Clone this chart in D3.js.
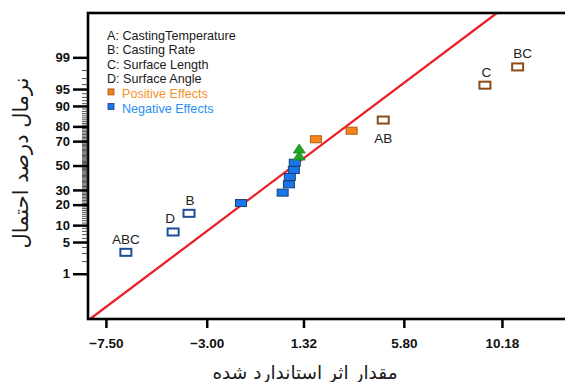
<!DOCTYPE html>
<html><head><meta charset="utf-8">
<script src="https://cdn.jsdelivr.net/npm/d3@7"></script>
<style>
html,body{margin:0;padding:0;background:#fff;}
svg{display:block;}
</style></head>
<body>
<svg id="chart" width="565" height="382"></svg>
<script>
// ---------- data ----------
const factorLegend = ["A: CastingTemperature","B: Casting Rate","C: Surface Length","D: Surface Angle"];
const effectLegend = ["Positive Effects","Negative Effects"];
const xTickValues = [-7.50, -3.00, 1.32, 5.80, 10.18];
const yTickValues = [1, 5, 10, 20, 30, 50, 70, 80, 90, 95, 99];
const effectNames = ["ABC","D","B","","","","","","","","","","","AB","C","BC"];
const effectValues = [-6.61,-4.50,-3.79,-1.47,0.39,0.67,0.71,0.89,0.93,1.13,1.13,1.875,3.47,4.88,9.42,10.88];
const effectPercent = [3.1,7.65,15.2,21.0,28.0,34.3,40.3,46.2,52.4,58.1,63.9,71.4,77.3,83.6,95.8,98.3];
const effectType = ["negSig","negSig","negSig","neg","neg","neg","neg","neg","neg","error","error","pos","pos","posSig","posSig","posSig"];
const fitMean = 0.90;
const fitSd = 2.76;
const xTitle = "مقدار اثر استاندارد شده";
const yTitle = "نرمال درصد احتمال";

// ---------- helpers ----------
function probit(p){
  const a=[-39.69683028665376,220.9460984245205,-275.9285104469687,138.3577518672690,-30.66479806614716,2.506628277459239];
  const b=[-54.47609879822406,161.5858368580409,-155.6989798598866,66.80131188771972,-13.28068155288572];
  const c=[-0.007784894002430293,-0.3223964580411365,-2.400758277161838,-2.549732539343734,4.374664141464968,2.938163982698783];
  const d=[0.007784695709041462,0.3224671290700398,2.445134137142996,3.754408661907416];
  const pl=0.02425, ph=1-pl; let q,r;
  if(p<pl){q=Math.sqrt(-2*Math.log(p));return (((((c[0]*q+c[1])*q+c[2])*q+c[3])*q+c[4])*q+c[5])/((((d[0]*q+d[1])*q+d[2])*q+d[3])*q+1);}
  if(p<=ph){q=p-0.5;r=q*q;return (((((a[0]*r+a[1])*r+a[2])*r+a[3])*r+a[4])*r+a[5])*q/(((((b[0]*r+b[1])*r+b[2])*r+b[3])*r+b[4])*r+1);}
  q=Math.sqrt(-2*Math.log(1-p));return -(((((c[0]*q+c[1])*q+c[2])*q+c[3])*q+c[4])*q+c[5])/((((d[0]*q+d[1])*q+d[2])*q+d[3])*q+1);
}

// ---------- layout ----------
const svg = d3.select("#chart");
const L = 88, T = 13, R = 572, B = 319;
const x = d3.scaleLinear().domain([-8.30, 13.3]).range([L, L + (13.3+8.30)*22.4]);
const yz = d3.scaleLinear().domain([-3.30, 3.28]).range([B, T]);
const yp = p => yz(probit(p/100));

const sans = "'Liberation Sans', Arial, Helvetica, sans-serif";
const arab = "'DejaVu Sans', 'Noto Sans', sans-serif";

svg.append("defs").append("clipPath").attr("id","clip")
  .append("rect").attr("x",L).attr("y",T).attr("width",R-L).attr("height",B-T);

// fit line
const zLo = yz.domain()[0], zHi = yz.domain()[1];
svg.append("line")
  .attr("clip-path","url(#clip)")
  .attr("x1", x(fitMean + zLo*fitSd)).attr("y1", yz(zLo))
  .attr("x2", x(fitMean + zHi*fitSd)).attr("y2", yz(zHi))
  .attr("stroke","#e8202a").attr("stroke-width",2.3);

// frame
svg.append("rect").attr("x",L).attr("y",T).attr("width",R-L).attr("height",B-T)
  .attr("fill","none").attr("stroke","#000").attr("stroke-width",2.6);

// x axis
const xAxis = svg.append("g").attr("transform",`translate(0,${B})`)
  .call(d3.axisBottom(x).tickValues(xTickValues).tickFormat(d3.format(".2f")).tickSize(9).tickSizeOuter(0));
xAxis.select(".domain").remove();
xAxis.selectAll(".tick line").attr("stroke","#000").attr("stroke-width",2.5);
xAxis.selectAll(".tick text").attr("font-family",sans).attr("font-size",13.5).attr("font-weight","bold")
  .attr("fill","#111").attr("dy","1.25em");

// y minor ticks
const minor = d3.range(2,99).filter(v => !yTickValues.includes(v));
const yMinor = svg.append("g").attr("transform",`translate(${L},0)`)
  .call(d3.axisLeft(yz).tickValues(minor.map(v=>probit(v/100))).tickFormat("").tickSize(6).tickSizeOuter(0));
yMinor.select(".domain").remove();
yMinor.selectAll(".tick line").attr("stroke","#222").attr("stroke-width",0.8);

// y major ticks
const yAxis = svg.append("g").attr("transform",`translate(${L},0)`)
  .call(d3.axisLeft(yz).tickValues(yTickValues.map(v=>probit(v/100)))
    .tickFormat((d,i)=>yTickValues[i]).tickSize(15).tickSizeOuter(0).tickPadding(3));
yAxis.select(".domain").remove();
yAxis.selectAll(".tick line").attr("stroke","#000").attr("stroke-width",2.5);
yAxis.selectAll(".tick text").attr("font-family",sans).attr("font-size",13).attr("font-weight","bold").attr("fill","#111");

// points
const style = {
  negSig:{fill:"#fff",stroke:"#1d4f96",sw:2,w:11,h:7},
  neg:{fill:"#1877ea",stroke:"#1b3f78",sw:1,w:11,h:7},
  pos:{fill:"#f6861c",stroke:"#b35a12",sw:1,w:11,h:7},
  posSig:{fill:"#fff",stroke:"#8b4a16",sw:2,w:11,h:7}
};
const pts = effectValues.map((v,i)=>({x:v,p:effectPercent[i],t:effectType[i],n:effectNames[i]}));
const g = svg.append("g");
pts.forEach(d=>{
  const cx = x(d.x), cy = yp(d.p);
  if(d.t==="error"){
    g.append("path").attr("d",`M${cx},${cy-5}L${cx+6},${cy+4}L${cx-6},${cy+4}Z`)
      .attr("fill","#20a526").attr("stroke","#1a8a20").attr("stroke-width",0.8);
  } else {
    const s = style[d.t];
    g.append("rect").attr("x",cx-s.w/2).attr("y",cy-s.h/2).attr("width",s.w).attr("height",s.h)
      .attr("fill",s.fill).attr("stroke",s.stroke).attr("stroke-width",s.sw);
  }
});
// labels
const labelDx = {ABC:0, D:-3, B:1, AB:0, C:1.5, BC:5};
pts.filter(d=>d.n).forEach(d=>{
  const below = d.n==="AB";
  svg.append("text").attr("x",x(d.x)+labelDx[d.n]).attr("y",yp(d.p)+(below?23:-8.5))
    .attr("text-anchor","middle").attr("font-family",sans).attr("font-size",13.5).attr("fill","#222").text(d.n);
});

// legend
const lg = svg.append("g");
factorLegend.forEach((t,i)=>{
  lg.append("text").attr("x",107).attr("y",39.5+i*14.6).attr("font-family",sans).attr("font-size",12.6)
    .attr("fill","#1a1a1a").text(t);
});
const effColors = [{f:"#f07f1c",s:"#a85510",t:"#f5922e"},{f:"#1878ea",s:"#1b3f78",t:"#2a90f2"}];
effectLegend.forEach((t,i)=>{
  const yy = 39.5+(4+i)*14.6;
  lg.append("rect").attr("x",108).attr("y",yy-9).attr("width",6).attr("height",6)
    .attr("fill",effColors[i].f).attr("stroke",effColors[i].s).attr("stroke-width",0.8);
  lg.append("text").attr("x",122).attr("y",yy).attr("font-family",sans).attr("font-size",12.6)
    .attr("fill",effColors[i].t).text(t);
});

// titles
svg.append("text").attr("x",305).attr("y",379).attr("text-anchor","middle")
  .attr("font-family",arab).attr("font-size",18.5).attr("fill","#1a1a1a").attr("direction","rtl").text(xTitle);
svg.append("text").attr("transform","translate(28,163) rotate(-90)").attr("text-anchor","middle")
  .attr("font-family",arab).attr("font-size",21).attr("fill","#1a1a1a").attr("direction","rtl").text(yTitle);
</script>
</body></html>
